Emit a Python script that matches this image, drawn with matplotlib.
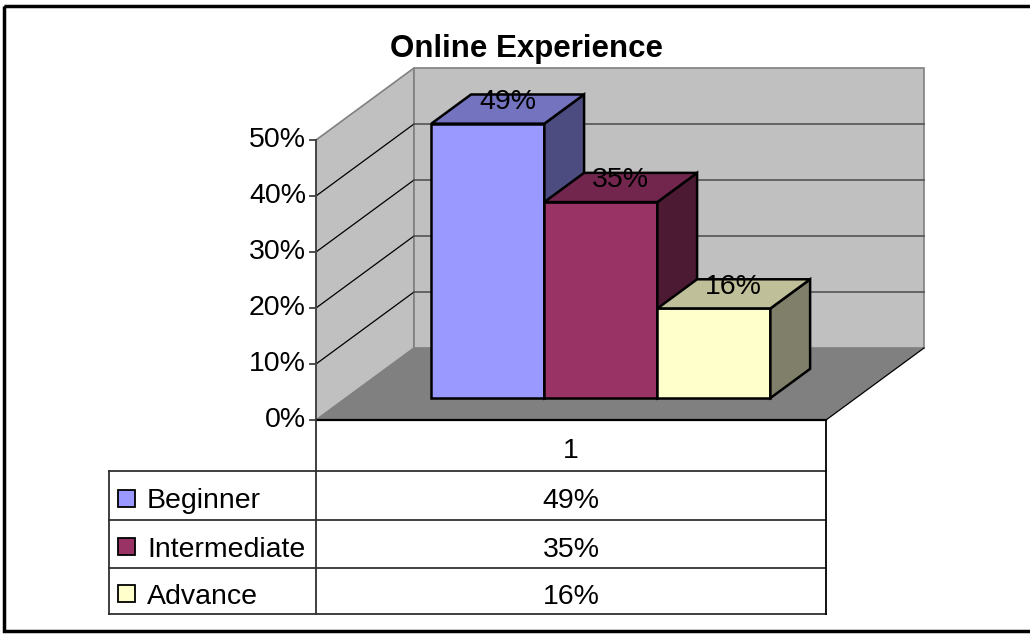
import matplotlib
matplotlib.use("Agg")
import matplotlib.pyplot as plt
from matplotlib.patches import Polygon, Rectangle

plt.rcParams['font.family'] = ['Liberation Sans', 'DejaVu Sans']

# データ
title = "Online Experience"
series = ["Beginner", "Intermediate", "Advance"]
values = [49, 35, 16]
category = "1"
y_ticks = [0, 10, 20, 30, 40, 50]

front_cols = ["#9999FF", "#993366", "#FFFFCC"]
top_cols = ["#7373BF", "#73264D", "#BFBF99"]
side_cols = ["#4C4C80", "#4D1A33", "#80806A"]

W, H = 1030, 635
fig = plt.figure(figsize=(W / 100, H / 100), dpi=100)

# 1 category unit = 510 px, 1 % = 5.6 px
ux, uy = 510.0, 5.6
x0px, y0px = 316.0, 420.0
ax = fig.add_axes([0, 0, 1, 1])
ax.set_xlim(0.5 - x0px / ux, 0.5 + (W - x0px) / ux)
ax.set_ylim(-(H - y0px) / uy, y0px / uy)
ax.axis("off")

# depth of the box
DX, DY = 98 / ux, 72 / uy
ymax = y_ticks[-1]


def proj(x, y, z):
    return (x + z * DX, y + z * DY)


# walls and floor
ax.add_patch(Polygon([proj(0.5, 0, 0), proj(0.5, ymax, 0), proj(0.5, ymax, 1), proj(0.5, 0, 1)],
                     closed=True, fc="#C0C0C0", ec="#808080", lw=1.2, zorder=1))
ax.add_patch(Polygon([proj(0.5, 0, 1), proj(0.5, ymax, 1), proj(1.5, ymax, 1), proj(1.5, 0, 1)],
                     closed=True, fc="#C0C0C0", ec="#808080", lw=1.2, zorder=1))
ax.add_patch(Polygon([proj(0.5, 0, 0), proj(1.5, 0, 0), proj(1.5, 0, 1), proj(0.5, 0, 1)],
                     closed=True, fc="#808080", ec="none", zorder=1))

# gridlines
for t in y_ticks[1:-1]:
    a, b = proj(0.5, t, 0), proj(0.5, t, 1)
    ax.plot([a[0], b[0]], [a[1], b[1]], color="black", lw=0.9, zorder=2)
    c = proj(1.5, t, 1)
    ax.plot([b[0], c[0]], [b[1], c[1]], color="#555555", lw=1.2, zorder=2)

# floor edges
a, b, c = proj(0.5, 0, 0), proj(1.5, 0, 0), proj(1.5, 0, 1)
ax.plot([a[0], b[0]], [a[1], b[1]], color="black", lw=1.6, zorder=3)
ax.plot([b[0], c[0]], [b[1], c[1]], color="black", lw=0.9, zorder=3)

# value axis
ax.plot([0.5, 0.5], [0, ymax], color="#404040", lw=1.3, zorder=3)
for t in y_ticks:
    ax.plot([0.5 - 6 / ux, 0.5], [t, t], color="#404040", lw=1.3, zorder=3)
    ax.text(0.5 - 10 / ux, t, f"{t}%", ha="right", va="center", fontsize=20.5, color="black")

# bars
w = 0.2216
z0, z1 = 0.305, 0.71
centers = [1 + (i - 1) * w for i in range(len(values))]
for i, (cx, v) in enumerate(zip(centers, values)):
    xl, xr = cx - w / 2, cx + w / 2
    ax.bar(cx + z0 * DX, v, width=w, bottom=z0 * DY, color=front_cols[i],
           edgecolor="black", linewidth=1.8, zorder=4 + i)
    ax.add_patch(Polygon([proj(xr, 0, z0), proj(xr, v, z0), proj(xr, v, z1), proj(xr, 0, z1)],
                         closed=True, fc=side_cols[i], ec="black", lw=1.8, zorder=4 + i))
    ax.add_patch(Polygon([proj(xl, v, z0), proj(xr, v, z0), proj(xr, v, z1), proj(xl, v, z1)],
                         closed=True, fc=top_cols[i], ec="black", lw=1.8, zorder=4 + i))
    lx, ly = proj(cx, v, (z0 + z1) / 2)
    ax.text(lx, ly, f"{v}%", ha="center", va="baseline", fontsize=20.5, color="black", zorder=10)

# overlay in pixel coords for title, table and border
ov = fig.add_axes([0, 0, 1, 1])
ov.set_xlim(0, W)
ov.set_ylim(H, 0)
ov.axis("off")
ov.patch.set_alpha(0)

ov.text(526, 57, title, ha="center", va="baseline", fontsize=22.5, fontweight="bold")

row_y = [471, 520, 568, 614]
lc = "#303030"
for yy in row_y:
    ov.plot([109, 826], [yy, yy], color=lc, lw=1.3)
ov.plot([109, 109], [471, 614], color=lc, lw=1.3)
ov.plot([316, 316], [420, 614], color=lc, lw=1.3)
ov.plot([826, 826], [420, 614], color="black", lw=1.3)

cat_x = x0px + 0.5 * ux
ov.text(cat_x, 458, category, ha="center", va="baseline", fontsize=20.5)
for i, (name, v) in enumerate(zip(series, values)):
    yc = (row_y[i] + row_y[i + 1]) / 2
    ov.add_patch(Rectangle((118, yc - 6), 17, 17, fc=front_cols[i], ec="black", lw=1.3))
    ov.text(147, yc + 13, name, ha="left", va="baseline", fontsize=20.5)
    ov.text(cat_x, yc + 13, f"{v}%", ha="center", va="baseline", fontsize=20.5)

ov.add_patch(Rectangle((4, 6), 1030, 625, fill=False, ec="black", lw=2.5))

fig.savefig("out.png", dpi=100)
